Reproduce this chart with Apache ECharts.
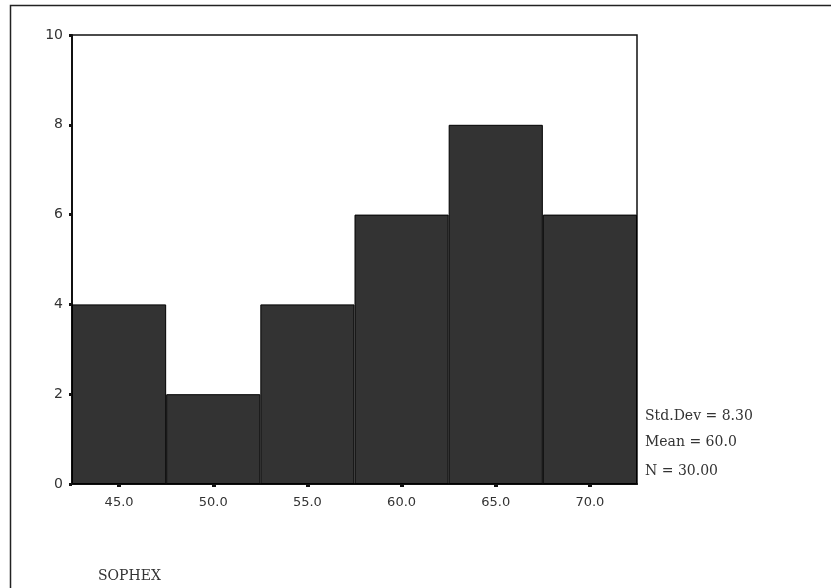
<!DOCTYPE html>
<html><head><meta charset="utf-8">
<script src="https://cdn.jsdelivr.net/npm/echarts@6/dist/echarts.min.js"></script>
<style>html,body{margin:0;padding:0;background:#fff}#c{width:831px;height:588px}</style>
</head><body><div id="c"></div>
<script>
var categories = ['45.0', '50.0', '55.0', '60.0', '65.0', '70.0'];
var counts = [4, 2, 4, 6, 8, 6];
var yTicks = [0, 2, 4, 6, 8, 10];
var statsLines = ['Std.Dev = 8.30', 'Mean = 60.0', 'N = 30.00'];
var xTitle = 'SOPHEX';

var chart = echarts.init(document.getElementById('c'));
chart.setOption({
  animation: false,
  backgroundColor: '#fff',
  grid: { left: 72, top: 35, width: 565, height: 449, show: true, borderColor: '#111', borderWidth: 1.5, backgroundColor: 'transparent' },
  xAxis: {
    type: 'category', data: categories, boundaryGap: true,
    axisLine: { show: true, lineStyle: { color: '#111', width: 2 } },
    axisTick: { show: true, alignWithLabel: true, length: 3, lineStyle: { color: '#111', width: 4 } },
    axisLabel: { color: '#333', fontFamily: 'DejaVu Sans', fontSize: 13, margin: 12 },
    splitLine: { show: false }
  },
  yAxis: {
    type: 'value', min: yTicks[0], max: yTicks[yTicks.length - 1], interval: 2,
    axisLine: { show: true, lineStyle: { color: '#111', width: 2 } },
    axisTick: { show: true, length: 3, lineStyle: { color: '#111', width: 3 } },
    axisLabel: { color: '#333', fontFamily: 'DejaVu Sans', fontSize: 14, margin: 9 },
    splitLine: { show: false }
  },
  series: [{
    type: 'bar', data: counts, barCategoryGap: 0, barGap: 0,
    itemStyle: { color: '#333333', borderColor: '#000', borderWidth: 1 }
  }],
  graphic: [
    { type: 'rect', shape: { x: 10.5, y: 5.5, width: 900, height: 700 }, style: { fill: 'none', stroke: '#222', lineWidth: 1.5 }, silent: true },
    { type: 'text', left: 645, top: 409, style: { text: statsLines[0], font: '14px "DejaVu Serif"', fill: '#333' } },
    { type: 'text', left: 645, top: 435, style: { text: statsLines[1], font: '14px "DejaVu Serif"', fill: '#333' } },
    { type: 'text', left: 645, top: 464, style: { text: statsLines[2], font: '14px "DejaVu Serif"', fill: '#333' } },
    { type: 'text', left: 98, top: 569, style: { text: xTitle, font: '14px "DejaVu Serif"', fill: '#333' } }
  ]
});
</script></body></html>
